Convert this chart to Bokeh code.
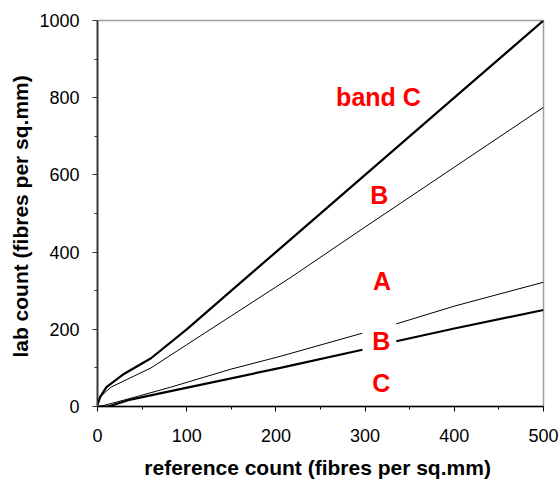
import numpy as np
from bokeh.plotting import figure
from bokeh.models import Range1d, FixedTicker, ColumnDataSource
from bokeh.core.properties import value
from bokeh.embed import file_html
from bokeh.resources import INLINE

nan = np.nan

# upper limit of band C (thick)
upper_c_x = [0, 3, 10, 30, 60, 100, 200, 300, 400, 500]
upper_c_y = [5, 25, 50, 85, 125, 200, 400, 600, 800, 1000]

# upper limit of band B (thin)
upper_b_x = [0, 3, 15, 60, 100, 217, 300, 400, 500]
upper_b_y = [5, 25, 50, 100, 160, 335, 465, 620, 775]

# lower limit of band B (thin), broken at the label
lower_b_x = [0, 6, 40, 82, 150, 205, 297, nan, 335, 400, 500]
lower_b_y = [0, 2, 23, 50, 97, 130, 190, nan, 214, 260, 322]

# lower limit of band C (thick), broken at the label
lower_c_x = [0, 12, 37, 82, 205, 297, nan, 335, 400, 500]
lower_c_y = [0, 0, 18, 40, 100, 147, nan, 169, 202, 250]

label_text = ["band C", "B", "A", "B", "C"]
label_x = [315, 316, 319, 318, 318]
label_y = [803, 549, 325, 169, 61]

x_ticks = [0, 100, 200, 300, 400, 500]
x_minor = [50, 150, 250, 350, 450]
y_ticks = [0, 200, 400, 600, 800, 1000]
y_minor = [100, 300, 500, 700, 900]

FONT = "Liberation Sans"

p = figure(width=560, height=481, output_backend="svg", toolbar_location=None,
           x_range=Range1d(0, 500), y_range=Range1d(0, 1000),
           min_border_left=97, min_border_top=20, min_border_right=17,
           min_border_bottom=75)
p.background_fill_color = "white"
p.border_fill_color = "white"
p.outline_line_color = "#a0a0a0"
p.outline_line_width = 1.5
p.xgrid.visible = False
p.ygrid.visible = False

p.line(upper_c_x, upper_c_y, line_color="black", line_width=2.2)
p.line(upper_b_x, upper_b_y, line_color="black", line_width=1)
p.line(lower_b_x, lower_b_y, line_color="black", line_width=1)
p.line(lower_c_x, lower_c_y, line_color="black", line_width=2.2)

src = ColumnDataSource(dict(x=label_x, y=label_y, t=label_text))
p.text(x="x", y="y", text="t", source=src, text_color="#ff0000",
       text_font=value(FONT), text_font_size="25px", text_font_style="bold",
       text_align="center", text_baseline="middle")

p.xaxis.ticker = FixedTicker(ticks=x_ticks, minor_ticks=x_minor)
p.yaxis.ticker = FixedTicker(ticks=y_ticks, minor_ticks=y_minor)

for ax in (p.xaxis[0], p.yaxis[0]):
    ax.major_tick_in = 0
    ax.major_tick_out = 5
    ax.minor_tick_in = 0
    ax.minor_tick_out = 3
    ax.major_label_text_font = FONT
    ax.major_label_text_font_size = "18px"
    ax.major_label_text_color = "black"
    ax.axis_label_text_font = FONT
    ax.axis_label_text_font_size = "21px"
    ax.axis_label_text_font_style = "bold"
    ax.axis_label_text_color = "black"

p.xaxis.axis_label = "reference count  (fibres per sq.mm)"
p.yaxis.axis_label = "lab count  (fibres per sq.mm)"
p.xaxis.axis_line_color = "black"
p.xaxis.axis_line_width = 1.5
p.xaxis.major_tick_line_color = "black"
p.xaxis.minor_tick_line_color = "black"
p.yaxis.axis_line_color = "#333333"
p.yaxis.axis_line_width = 1.8
p.yaxis.major_tick_line_color = "#333333"
p.yaxis.minor_tick_line_color = "#333333"
p.xaxis.major_label_standoff = 17
p.xaxis.axis_label_standoff = 11
p.yaxis.major_label_standoff = 13
p.yaxis.axis_label_standoff = 4

open("out.html", "w").write(file_html(p, INLINE))
